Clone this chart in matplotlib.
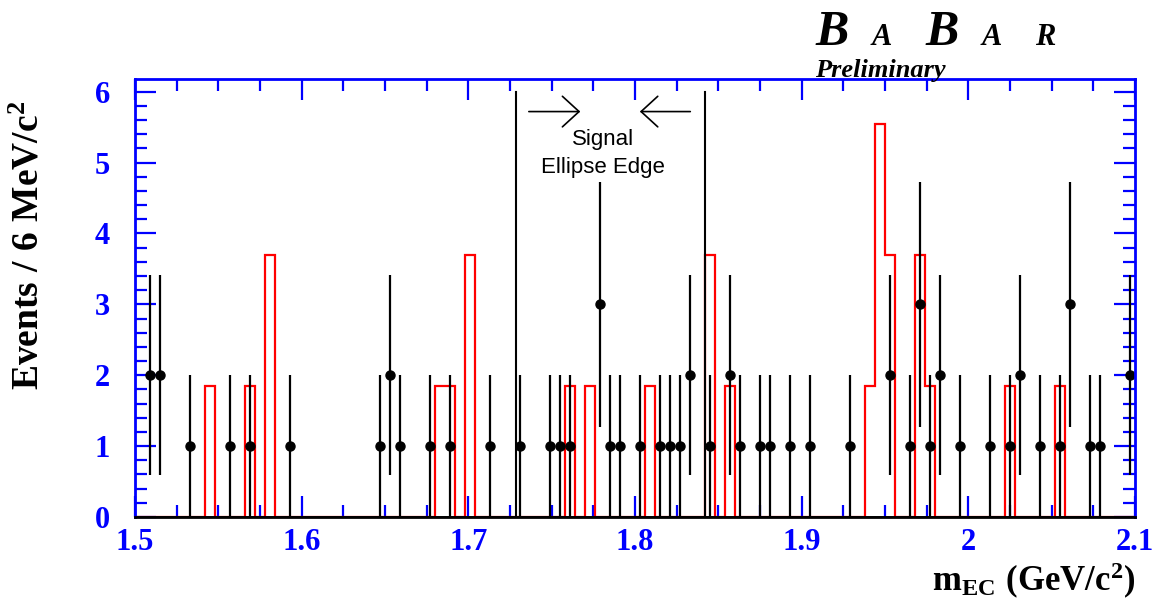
"""BaBar preliminary m_EC distribution: data points with a red MC histogram."""

import numpy as np
import matplotlib as mpl

mpl.use("Agg")
import matplotlib.pyplot as plt
from matplotlib import rcParams

rcParams.update({
    "mathtext.fontset": "custom",
    "mathtext.rm": "Liberation Serif:bold",
    "mathtext.bf": "Liberation Serif:bold",
    "mathtext.it": "Liberation Serif:bold",
})

# 6 MeV bins from 1.5 to 2.1 GeV/c^2
bin_edges = np.linspace(1.5, 2.1, 101)

# data: bin centres and event counts
data_mass = [1.509, 1.515, 1.533, 1.557, 1.569, 1.593, 1.647, 1.653, 1.659,
             1.677, 1.689, 1.713, 1.731, 1.749, 1.755, 1.761, 1.779, 1.785,
             1.791, 1.803, 1.815, 1.821, 1.827, 1.833, 1.845, 1.857, 1.863,
             1.875, 1.881, 1.893, 1.905, 1.929, 1.953, 1.965, 1.971, 1.977,
             1.983, 1.995, 2.013, 2.025, 2.031, 2.043, 2.055, 2.061, 2.073,
             2.079, 2.097]
data_events = [2, 2, 1, 1, 1, 1, 1, 2, 1,
               1, 1, 1, 1, 1, 1, 1, 3, 1,
               1, 1, 1, 1, 1, 2, 1, 2, 1,
               1, 1, 1, 1, 1, 2, 1, 3, 1,
               2, 1, 1, 1, 2, 1, 1, 3, 1,
               1, 2]

# scaled MC: bin centres and weights
mc_mass = [1.545, 1.569, 1.581, 1.683, 1.689, 1.701, 1.761, 1.773, 1.809,
           1.845, 1.857, 1.941, 1.947, 1.953, 1.971, 1.977, 2.025, 2.055]
mc_weight = [1.85, 1.85, 3.7, 1.85, 1.85, 3.7, 1.85, 1.85, 1.85,
             3.7, 1.85, 1.85, 5.55, 3.7, 3.7, 1.85, 1.85, 1.85]

# signal ellipse edges
edge_lo, edge_hi = 1.7284, 1.842

blue = "#0000ff"

fig = plt.figure(figsize=(11.57, 6.07), dpi=100)
ax = fig.add_axes([0.1167, 0.1483, 0.8644, 0.7216])

ax.hist(mc_mass, bins=bin_edges, weights=mc_weight, histtype="step",
        color="red", linewidth=1.6)

ax.errorbar(data_mass, data_events, yerr=np.sqrt(data_events), fmt="o",
            color="black", markersize=6.5, elinewidth=1.6, capsize=0)

ax.axhline(0, color="black", linewidth=2)

# signal region markers
for xe in (edge_lo, edge_hi):
    ax.plot([xe, xe], [0, 6], color="black", linewidth=1.5)
arrow = dict(arrowstyle="->,head_length=1.2,head_width=1.1",
             color="black", lw=1.2)
ax.annotate("", xy=(1.7688, 5.72), xytext=(1.7346, 5.72), arrowprops=arrow)
ax.annotate("", xy=(1.8012, 5.72), xytext=(1.8348, 5.72), arrowprops=arrow)
ax.text(1.781, 5.32, "Signal", ha="center", va="center", fontsize=16,
        family="Liberation Sans")
ax.text(1.781, 4.93, "Ellipse Edge", ha="center", va="center", fontsize=16,
        family="Liberation Sans")

ax.set_xlim(1.5, 2.1)
ax.set_ylim(0, 6.18)
ax.set_xticks(np.arange(1.5, 2.11, 0.1))
ax.set_xticklabels(["1.5", "1.6", "1.7", "1.8", "1.9", "2", "2.1"])
ax.set_xticks(np.arange(1.5, 2.1, 0.025), minor=True)
ax.set_yticks(range(7))
ax.set_yticks(np.arange(0, 6.1, 0.2), minor=True)

for side in ("left", "top", "right"):
    ax.spines[side].set_color(blue)
    ax.spines[side].set_linewidth(2)
ax.spines["bottom"].set_color("black")
ax.spines["bottom"].set_linewidth(2)

ax.tick_params(which="both", direction="in", top=True, right=True,
               color=blue, width=1.6, labelcolor=blue, labelsize=22)
ax.tick_params(which="major", length=15)
ax.tick_params(which="minor", length=8.5)
ax.tick_params(axis="x", pad=8)
ax.tick_params(axis="y", pad=18)
for lab in ax.get_xticklabels() + ax.get_yticklabels():
    lab.set_family("Liberation Serif")
    lab.set_fontweight("bold")

fig.text(0.025, 0.596, r"$\mathbf{Events\ /\ 6\ MeV/c^{2}}$", rotation=90,
         ha="center", va="center", fontsize=27)
fig.text(0.981, 0.01, r"$\mathbf{m_{EC}\ (GeV/c^{2})}$", ha="right",
         va="bottom", fontsize=25)

# BaBar logo
logo = dict(family="Liberation Serif", weight="bold", style="italic",
            va="baseline", ha="left")
fig.text(815 / 1157, 1 - 45 / 607, "B", fontsize=36, **logo)
fig.text(872 / 1157, 1 - 45 / 607, "A", fontsize=22, **logo)
fig.text(925 / 1157, 1 - 45 / 607, "B", fontsize=36, **logo)
fig.text(982 / 1157, 1 - 45 / 607, "A", fontsize=22, **logo)
fig.text(1035 / 1157, 1 - 45 / 607, "R", fontsize=22, **logo)
fig.text(815 / 1157, 1 - 77 / 607, "Preliminary", fontsize=19, **logo)

fig.savefig("out.png", dpi=100, facecolor="white")
